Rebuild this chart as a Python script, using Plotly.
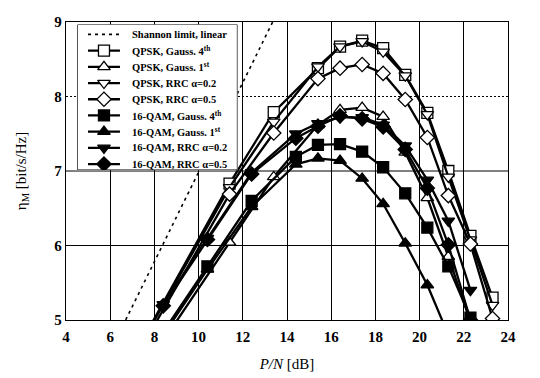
import plotly.graph_objects as go

# ---- data ----
shannon_x = [6.0, 14.0]
shannon_y = [4.58, 9.39]

qpsk_x = [7.4, 11.4, 13.4, 15.4, 16.4, 17.4, 18.35, 19.35, 20.35, 21.3, 22.3, 23.3]
qpsk_g4 = [4.70, 6.83, 7.79, 8.38, 8.67, 8.75, 8.65, 8.29, 7.78, 7.00, 6.13, 5.30]
qpsk_g1 = [4.28, 6.04, 6.92, 7.62, 7.82, 7.85, 7.73, 7.25, 6.64, 5.85, 4.95, 4.10]
qpsk_r2 = [4.68, 6.78, 7.66, 8.40, 8.67, 8.74, 8.60, 8.28, 7.76, 6.92, 6.08, 5.20]
qpsk_r5 = [4.62, 6.69, 7.51, 8.24, 8.38, 8.43, 8.31, 7.96, 7.45, 6.67, 6.02, 5.02]

qam_x = [8.4, 10.4, 12.4, 14.4, 15.4, 16.4, 17.4, 18.35, 19.35, 20.35, 21.3, 22.3]
qam_g4 = [4.84, 5.72, 6.60, 7.19, 7.35, 7.36, 7.26, 7.05, 6.70, 6.24, 5.72, 5.03]
qam_g1 = [4.80, 5.68, 6.52, 7.09, 7.17, 7.14, 6.90, 6.56, 6.03, 5.47, 4.80, 4.10]
qam_r2 = [5.21, 6.10, 6.98, 7.50, 7.64, 7.72, 7.72, 7.62, 7.34, 6.88, 6.33, 5.40]
qam_r5 = [5.19, 6.08, 6.96, 7.44, 7.60, 7.74, 7.70, 7.59, 7.29, 6.77, 6.01, 5.00]

shannon_name = "Shannon limit, linear"
names = [
    "QPSK, Gauss. 4<sup>th</sup>",
    "QPSK, Gauss. 1<sup>st</sup>",
    "QPSK, RRC α=0.2",
    "QPSK, RRC α=0.5",
    "16-QAM, Gauss. 4<sup>th</sup>",
    "16-QAM, Gauss. 1<sup>st</sup>",
    "16-QAM, RRC α=0.2",
    "16-QAM, RRC α=0.5",
]
xs = [qpsk_x] * 4 + [qam_x] * 4
ys = [qpsk_g4, qpsk_g1, qpsk_r2, qpsk_r5, qam_g4, qam_g1, qam_r2, qam_r5]
symbols = ["square", "triangle-up", "triangle-down", "diamond"] * 2
fills = ["white"] * 4 + ["black"] * 4

x_ticks = [4, 6, 8, 10, 12, 14, 16, 18, 20, 22, 24]
y_ticks = [5, 6, 7, 8, 9]
grid_solid_y = [6, 7]
grid_dot_y = [8]

FONT = "Liberation Serif, Times New Roman, serif"
LINE_W = 2.3
MK = 11
LEG_FS = 10.5

fig = go.Figure()

# horizontal grid (8 is dotted in the original)
for yv in grid_solid_y:
    fig.add_shape(type="line", xref="paper", x0=0, x1=1, yref="y", y0=yv, y1=yv,
                  line=dict(color="black", width=1), layer="below")
for yv in grid_dot_y:
    fig.add_shape(type="line", xref="paper", x0=0, x1=1, yref="y", y0=yv, y1=yv,
                  line=dict(color="black", width=1, dash="2px,2px"), layer="below")

fig.add_trace(go.Scatter(
    x=shannon_x, y=shannon_y, mode="lines", name=shannon_name, showlegend=False,
    line=dict(color="black", width=1.6, dash="3px,4px"),
))
for x, y, n, s, f in zip(xs, ys, names, symbols, fills):
    fig.add_trace(go.Scatter(
        x=x, y=y, mode="lines+markers", name=n, showlegend=False,
        line=dict(color="black", width=LINE_W),
        marker=dict(symbol=s, size=MK, color=f, line=dict(color="black", width=1.3)),
    ))

# ---- hand-built legend on its own small axes (units: pixels inside the box) ----
LEG_W = 160.4
Y_TOP, Y_BOT = -0.617, 8.37
seg_x0, seg_x1, mk_x, txt_x = 10.7, 42.7, 26.7, 52.5
fig.add_trace(go.Scatter(
    x=[0, LEG_W, LEG_W, 0, 0], y=[Y_TOP, Y_TOP, Y_BOT, Y_BOT, Y_TOP],
    xaxis="x2", yaxis="y2", mode="lines", fill="toself", fillcolor="white",
    line=dict(color="black", width=1.3), showlegend=False, hoverinfo="skip",
))
fig.add_trace(go.Scatter(
    x=[seg_x0, seg_x1], y=[0, 0], xaxis="x2", yaxis="y2", mode="lines", showlegend=False,
    hoverinfo="skip", line=dict(color="black", width=1.6, dash="3px,4px"),
))
fig.add_annotation(x=txt_x, y=0, xref="x2", yref="y2", text=shannon_name, showarrow=False,
                   xanchor="left", yanchor="middle",
                   font=dict(family=FONT, size=LEG_FS, weight="bold", color="black"))
for i, (n, s, f) in enumerate(zip(names, symbols, fills), start=1):
    fig.add_trace(go.Scatter(
        x=[seg_x0, seg_x1], y=[i, i], xaxis="x2", yaxis="y2", mode="lines",
        showlegend=False, hoverinfo="skip", line=dict(color="black", width=LINE_W),
    ))
    fig.add_trace(go.Scatter(
        x=[mk_x], y=[i], xaxis="x2", yaxis="y2", mode="markers", showlegend=False,
        hoverinfo="skip",
        marker=dict(symbol=s, size=MK, color=f, line=dict(color="black", width=1.3)),
    ))
    fig.add_annotation(x=txt_x, y=i, xref="x2", yref="y2", text=n, showarrow=False,
                       xanchor="left", yanchor="middle",
                       font=dict(family=FONT, size=LEG_FS, weight="bold", color="black"))

# page body has an 8px margin, so the figure is 8px smaller than the window
fig.update_layout(
    width=532, height=370,
    margin=dict(l=58, r=32, t=14, b=58),
    paper_bgcolor="white", plot_bgcolor="white",
    font=dict(family=FONT, color="black"),
    showlegend=False,
    xaxis=dict(
        range=[4, 24], tickvals=x_ticks, showgrid=True, gridcolor="black", gridwidth=1,
        showline=True, linecolor="black", linewidth=1.3, mirror=True, zeroline=False,
        ticks="", tickfont=dict(size=15, weight="bold"), automargin=False,
        ticklabelstandoff=3,
        title=dict(text="<i>P/N</i> [dB]", font=dict(size=15), standoff=14),
        domain=[0, 1],
    ),
    yaxis=dict(
        range=[5, 9], tickvals=y_ticks, showgrid=False,
        showline=True, linecolor="black", linewidth=1.3, mirror=True, zeroline=False,
        ticks="", tickfont=dict(size=15, weight="bold"), automargin=False,
        title=dict(text="η<sub>M</sub> [bit/s/Hz]", font=dict(size=15), standoff=24),
        domain=[0, 1],
    ),
    xaxis2=dict(domain=[0.0256, 0.388], anchor="y2", range=[0, LEG_W], visible=False,
                fixedrange=True),
    yaxis2=dict(domain=[0.503, 0.992], anchor="x2", range=[Y_BOT, Y_TOP], visible=False,
                fixedrange=True),
)

fig.write_html("out.html")
